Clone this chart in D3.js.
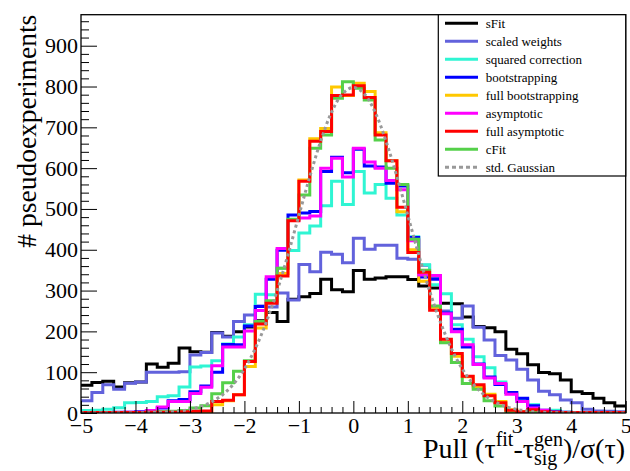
<!DOCTYPE html>
<html><head><meta charset="utf-8">
<script src="https://cdn.jsdelivr.net/npm/d3@7"></script>
<style>body{margin:0;background:#fff} text{font-family:"Liberation Serif","Times New Roman",serif;fill:#000}</style>
</head><body><svg id="c" width="630" height="471"></svg>
<script>
// ---- data ----
const binWidth = 0.2;
const binLow = [-5.0,-4.8,-4.6,-4.4,-4.2,-4.0,-3.8,-3.6,-3.4,-3.2,-3.0,-2.8,-2.6,-2.4,-2.2,-2.0,-1.8,-1.6,-1.4,-1.2,-1.0,-0.8,-0.6,-0.4,-0.2,0.0,0.2,0.4,0.6,0.8,1.0,1.2,1.4,1.6,1.8,2.0,2.2,2.4,2.6,2.8,3.0,3.2,3.4,3.6,3.8,4.0,4.2,4.4,4.6,4.8];
const sFit = [68,75,78,64,74,76,120,112,122,159,150,149,197,188,199,211,226,246,224,279,285,293,328,302,297,349,328,331,334,334,327,311,306,269,268,235,212,209,199,156,145,118,99,96,81,52,48,36,25,17];
const scaledWeights = [30,50,69,58,73,76,100,100,100,101,142,148,196,186,224,240,262,260,294,277,364,346,394,389,368,428,401,411,411,379,377,362,332,250,232,262,210,179,141,130,107,81,53,45,32,25,9,5,4,3];
const squaredCorrection = [6,7,9,13,25,26,28,40,42,64,113,115,128,169,186,216,291,290,355,398,441,458,508,568,511,592,539,560,526,485,432,363,314,292,216,181,138,111,76,50,34,20,5,7,2,1,1,1,1,1];
const bootstrapping = [1,1,1,2,2,3,5,12,30,33,52,66,100,168,167,213,261,328,399,485,490,494,592,627,589,646,605,603,563,556,430,333,328,245,205,162,120,88,70,50,36,18,7,3,2,1,1,1,1,1];
const fullBootstrapping = [1,1,1,1,1,1,1,2,2,2,3,3,20,30,45,114,208,273,342,474,571,672,697,799,778,808,788,687,618,493,400,323,259,174,139,89,64,46,28,8,3,3,2,1,1,1,1,1,1,1];
const asymptotic = [1,1,1,1,2,2,6,15,28,28,48,63,116,162,162,201,251,334,403,472,478,483,600,624,578,649,615,600,570,547,422,338,337,243,199,167,119,86,72,46,28,12,7,2,1,1,1,1,1,1];
const fullAsymptotic = [1,1,1,1,1,1,2,2,2,3,4,5,28,31,45,126,218,269,336,471,568,666,690,778,779,802,773,681,618,504,393,345,252,181,146,90,69,42,25,7,3,8,3,2,1,1,1,1,1,1];
const cFit = [1,1,1,1,1,1,2,3,4,6,12,18,47,74,102,128,224,275,355,475,534,649,681,771,812,796,767,669,600,560,426,350,262,172,124,72,58,30,17,3,2,1,1,1,1,1,1,1,1,1];
const gaussX = [-5.0,-4.8,-4.6,-4.4,-4.2,-4.0,-3.8,-3.6,-3.4,-3.2,-3.0,-2.8,-2.6,-2.4,-2.2,-2.0,-1.8,-1.6,-1.4,-1.2,-1.0,-0.8,-0.6,-0.4,-0.2,0.0,0.2,0.4,0.6,0.8,1.0,1.2,1.4,1.6,1.8,2.0,2.2,2.4,2.6,2.8,3.0,3.2,3.4,3.6,3.8,4.0,4.2,4.4,4.6,4.8,5.0];
const gaussY = [0,0,0,0,0,0.3,0.6,1.2,2.5,4.8,8.9,15.8,27.2,44.8,70.9,108,158,222,299,388,484,579,666,737,782,798,782,737,666,579,484,388,299,222,158,108,70.9,44.8,27.2,15.8,8.9,4.8,2.5,1.2,0.6,0.3,0,0,0,0,0];
const yTickValues = [0,100,200,300,400,500,600,700,800,900];
const xTickValues = [-5,-4,-3,-2,-1,0,1,2,3,4,5];
const legendLabels = ["sFit","scaled weights","squared correction","bootstrapping","full bootstrapping","asymptotic","full asymptotic","cFit","std. Gaussian"];

// ---- chart ----
const svg = d3.select("#c");
svg.append("rect").attr("width",630).attr("height",471).attr("fill","#fff");
const x = d3.scaleLinear().domain([-5,5]).range([81,625.7]);
const y = d3.scaleLinear().domain([0,976]).range([413,14.7]);

svg.append("clipPath").attr("id","fr").append("rect")
  .attr("x",x(-5)).attr("y",y(976)).attr("width",x(5)-x(-5)).attr("height",y(0)-y(976));

const series = [
  {name:legendLabels[0], vals:sFit, color:"#000000"},
  {name:legendLabels[1], vals:scaledWeights, color:"#6262dc"},
  {name:legendLabels[2], vals:squaredCorrection, color:"#2ff5d3"},
  {name:legendLabels[3], vals:bootstrapping, color:"#0000ff"},
  {name:legendLabels[4], vals:fullBootstrapping, color:"#ffc800"},
  {name:legendLabels[5], vals:asymptotic, color:"#ff00ff"},
  {name:legendLabels[6], vals:fullAsymptotic, color:"#ff0000"},
  {name:legendLabels[7], vals:cFit, color:"#55d04a"}
];
const drawOrder = [0,1,2,3,4,5,7,6];

const step = d3.line().x(d=>x(d[0])).y(d=>y(d[1])).curve(d3.curveStepAfter);
function pts(vals){ const p = vals.map((v,i)=>[binLow[i],v]); p.push([binLow[binLow.length-1]+binWidth, vals[vals.length-1]]); return p; }

const plot = svg.append("g").attr("clip-path","url(#fr)");
drawOrder.forEach(k=>{
  plot.append("path").attr("d",step(pts(series[k].vals)))
    .attr("fill","none").attr("stroke",series[k].color).attr("stroke-width",3);
});
const gLine = d3.line().x((d,i)=>x(gaussX[i])).y(d=>y(d)).curve(d3.curveCatmullRom);
plot.append("path").attr("d",gLine(gaussY)).attr("fill","none")
  .attr("stroke","#999999").attr("stroke-width",3).attr("stroke-dasharray","3,3");

// axes
const yMinor = d3.range(0,976,20).filter(v=>v%100!==0);
svg.append("g").attr("transform",`translate(${x(-5)},0)`)
  .call(d3.axisLeft(y).tickValues(yMinor).tickSize(-8).tickFormat(""))
  .call(g=>g.select(".domain").remove());
svg.append("g").attr("transform",`translate(${x(-5)},0)`)
  .call(d3.axisLeft(y).tickValues(yTickValues).tickSize(-16).tickPadding(3).tickFormat(d3.format("d")))
  .call(g=>g.select(".domain").remove())
  .call(g=>g.selectAll("text").attr("font-size",22).attr("font-family","Liberation Serif").attr("fill","#000"));
const xMinor = d3.range(-5,5.001,0.2).filter(v=>Math.abs(v-Math.round(v))>1e-6);
svg.append("g").attr("transform",`translate(0,${y(0)})`)
  .call(d3.axisBottom(x).tickValues(xMinor).tickSize(-6).tickFormat(""))
  .call(g=>g.select(".domain").remove());
svg.append("g").attr("transform",`translate(0,${y(0)})`)
  .call(d3.axisBottom(x).tickValues(xTickValues).tickSize(-12).tickPadding(4).tickFormat(d=>d<0?"\u2212"+Math.abs(d):String(d)))
  .call(g=>g.select(".domain").remove())
  .call(g=>g.selectAll("text").attr("font-size",22).attr("font-family","Liberation Serif").attr("fill","#000"));
svg.selectAll(".tick line").attr("stroke","#000").attr("stroke-width",1);

// frame
svg.append("rect").attr("x",x(-5)).attr("y",y(976)).attr("width",x(5)-x(-5)).attr("height",y(0)-y(976))
  .attr("fill","none").attr("stroke","#000").attr("stroke-width",1.3);

// legend
const lg = svg.append("g");
lg.append("rect").attr("x",438.3).attr("y",y(976)).attr("width",x(5)-438.3).attr("height",161.3)
  .attr("fill","#fff").attr("stroke","#000").attr("stroke-width",1.2);
legendLabels.forEach((lab,i)=>{
  const cy = 23.3 + 18*i;
  const ln = lg.append("line").attr("x1",445).attr("x2",478).attr("y1",cy).attr("y2",cy).attr("stroke-width",3);
  if(i<8) ln.attr("stroke",series[i].color);
  else ln.attr("stroke","#999999").attr("stroke-dasharray","4,3");
  lg.append("text").attr("x",485.7).attr("y",cy+4.5).attr("font-size",13).text(lab);
});

// titles
svg.append("text").attr("transform",`translate(35.5,${y(976)}) rotate(-90)`)
  .attr("text-anchor","end").attr("font-size",27.5).text("# pseudoexperiments");

const xt = svg.append("text").attr("x",625).attr("y",458).attr("text-anchor","end").attr("font-size",28);
xt.append("tspan").text("Pull (\u03c4");
xt.append("tspan").attr("font-size",20).attr("dy",-12).text("fit");
xt.append("tspan").attr("dy",12).text("-\u03c4");
const tGen = xt.append("tspan").attr("font-size",20).attr("dy",-12).text("gen");
const tSig = xt.append("tspan").attr("font-size",20).attr("dy",19).text("sig");
const tRest = xt.append("tspan").attr("dy",-7).text(")/\u03c3(\u03c4)");
const wGen = tGen.node().getComputedTextLength();
const wSig = tSig.node().getComputedTextLength();
tSig.attr("dx",-wGen);
tRest.attr("dx",Math.max(0,wGen-wSig));
</script></body></html>
